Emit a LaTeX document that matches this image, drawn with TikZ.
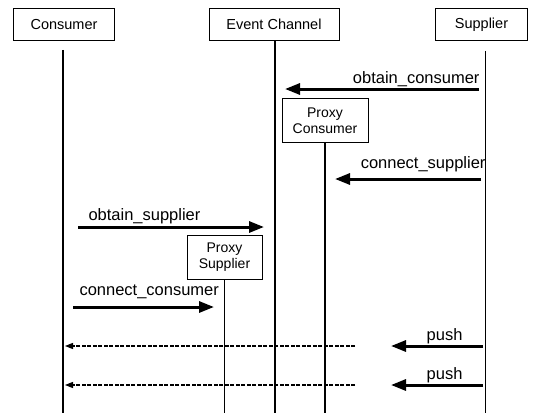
\documentclass[tikz,border=0pt]{standalone}
\usepackage{fontspec}
\setmainfont{Liberation Sans}
\usepackage{tikz}
\usetikzlibrary{arrows.meta}

\begin{document}
\begin{tikzpicture}[x=1pt,y=-1pt,>={Triangle[length=15pt,width=11pt]},
 actor/.style={draw,line width=0.8pt,minimum width=#1,minimum height=32pt,
               inner sep=0pt,font=\fontsize{14.5}{16}\selectfont},
 proxy/.style={draw,line width=0.8pt,minimum width=#1,minimum height=44pt,
               inner sep=0pt,align=center,font=\fontsize{14}{16}\selectfont},
 life/.style={line width=1.5pt},
 msg/.style={->,line width=3pt},
 reply/.style={-{Triangle[length=8pt,width=6pt]},line width=1.2pt,
               dash pattern=on 4pt off 1.5pt},
 lbl/.style={font=\fontsize{16.5}{18}\selectfont,inner sep=0pt}]
\useasboundingbox (0,0) rectangle (539,413);
\node[actor=101pt] (cons) at (64,24.5) {Consumer};
\node[actor=130pt] (chan) at (274,24.5) {Event Channel};
\node[actor=92pt] (supp) at (481.5,24.5) {Supplier};
\node[proxy=86pt] (pcons) at (325,120.5) {Proxy\\Consumer};
\node[proxy=75pt] (psupp) at (224.5,257.5) {Proxy\\Supplier};
\coordinate (bot) at (0,413);
% lifelines
\draw[life] ([xshift=-1pt,yshift=-9pt]cons.south) -- ([xshift=-1pt]cons.south |- bot);
\draw[life] ([xshift=1pt]chan.south) -- ([xshift=1pt]chan.south |- bot);
\draw[life] ([xshift=4pt,yshift=-10pt]supp.south) -- ([xshift=4pt]supp.south |- bot);
\draw[line width=1.3pt] (pcons.south) -- (pcons.south |- bot);
\draw[line width=1.3pt] (psupp.south) -- (psupp.south |- bot);
% messages
\coordinate (oc1) at (479,89);  \coordinate (oc2) at (285,89);
\coordinate (cs1) at (481,179); \coordinate (cs2) at (335,179);
\coordinate (os1) at (78,227);  \coordinate (os2) at (264,227);
\coordinate (cc1) at (73,307);  \coordinate (cc2) at (214,307);
\draw[msg] (oc1) -- (oc2) node[lbl,pos=0,anchor=base east,xshift=2pt,yshift=6pt]{obtain\_consumer};
\draw[msg] (cs1) -- (cs2) node[lbl,pos=0,anchor=base east,xshift=6pt,yshift=11pt]{connect\_supplier};
\draw[msg] (os1) -- (os2) node[lbl,pos=0,anchor=base west,xshift=9pt,yshift=7pt]{obtain\_supplier};
\draw[msg] (cc1) -- (cc2) node[lbl,pos=0,anchor=base west,xshift=5pt,yshift=12pt]{connect\_consumer};
% push events
\foreach \y [count=\i] in {346,385}{
  \coordinate (p\i a) at (483,\y); \coordinate (p\i b) at (391,\y);
  \coordinate (p\i c) at (355,\y); \coordinate (p\i d) at (65,\y);
  \draw[msg] (p\i a) -- (p\i b) node[lbl,pos=0,anchor=base east,xshift=-19pt,yshift=6pt]{push};
  \draw[reply] (p\i c) -- (p\i d);
}
\end{tikzpicture}
\end{document}
